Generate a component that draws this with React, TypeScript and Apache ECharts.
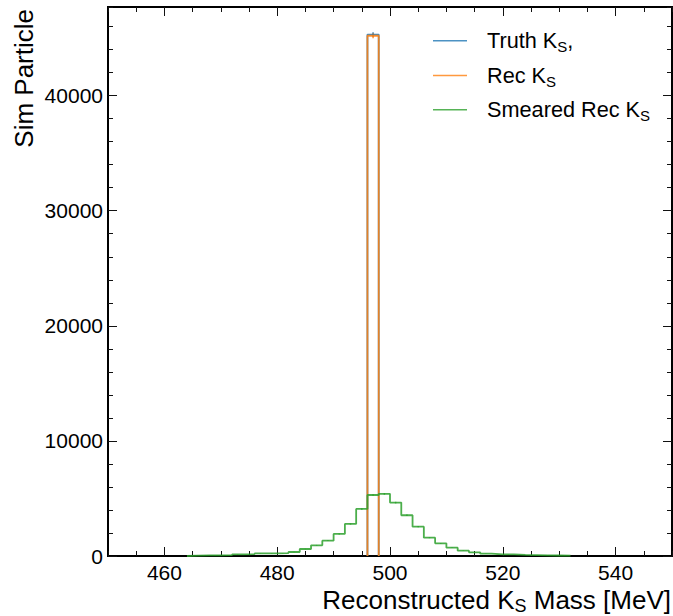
import React, { useEffect, useRef } from 'react';
import * as echarts from 'echarts';

const FONT = "'Liberation Sans', Arial, Helvetica, sans-serif";

// ---- data ----
const xTickLabels = [460, 480, 500, 520, 540];
const yTickLabels = [0, 10000, 20000, 30000, 40000];

const smearedEdges = [
  464, 466, 468, 470, 472, 474, 476, 478, 480, 482, 484, 486, 488, 490, 492, 494, 496, 498,
  500, 502, 504, 506, 508, 510, 512, 514, 516, 518, 520, 522, 524, 526, 528, 530, 532,
];
const smearedCounts = [
  40, 50, 60, 70, 140, 155, 220, 235, 250, 348, 609, 931, 1331, 1915, 2785, 4090, 5300, 5400,
  4640, 3540, 2550, 1590, 1105, 722, 461, 322, 200, 148, 140, 100, 80, 60, 45, 30,
];
const truthEdges = [496, 498];
const truthCounts = [45300];
const recEdges = [496, 498];
const recCounts = [45200];

const seriesNames = ['Truth K_S,', 'Rec K_S', 'Smeared Rec K_S'];
const seriesColors = ['#1f77b4', '#ff7f0e', '#2ca02c'];

const X_MIN = 450;
const X_MAX = 550;
const Y_MIN = 0;
const Y_MAX = 47700;

function stepPoints(edges: number[], counts: number[]) {
  const pts: number[][] = [[edges[0], 0]];
  counts.forEach((c, i) => {
    pts.push([edges[i], c]);
    pts.push([edges[i + 1], c]);
  });
  pts.push([edges[edges.length - 1], 0]);
  return pts;
}

function errPoints(edges: number[], counts: number[]) {
  return counts.map((c, i) => [(edges[i] + edges[i + 1]) / 2, c, Math.sqrt(c)]);
}

function histSeries(name: string, color: string, edges: number[], counts: number[]) {
  return [
    {
      name,
      type: 'line',
      data: stepPoints(edges, counts),
      showSymbol: false,
      symbol: 'none',
      silent: true,
      lineStyle: { color, width: 1.8, opacity: 0.85 },
      itemStyle: { color },
      emphasis: { disabled: true },
      xAxisIndex: 0,
      yAxisIndex: 0,
    },
    {
      name: name + ' err',
      type: 'custom',
      data: errPoints(edges, counts),
      silent: true,
      xAxisIndex: 0,
      yAxisIndex: 0,
      encode: { x: 0, y: 1 },
      renderItem: (params: any, api: any) => {
        const x = api.value(0);
        const y = api.value(1);
        const e = api.value(2);
        const p1 = api.coord([x, y - e]);
        const p2 = api.coord([x, y + e]);
        return {
          type: 'line',
          shape: { x1: p1[0], y1: p1[1], x2: p2[0], y2: p2[1] },
          style: { stroke: color, lineWidth: 1.5, opacity: 0.85 },
        };
      },
    },
  ];
}

function xAxisDef(position: 'bottom' | 'top', major: boolean) {
  const base: any = {
    type: 'value',
    position,
    min: X_MIN,
    max: X_MAX,
    axisLine: { show: false, onZero: false },
    splitLine: { show: false },
  };
  if (major) {
    base.axisTick = {
      show: true,
      inside: true,
      length: 9,
      customValues: xTickLabels,
      lineStyle: { color: '#111', width: 1 },
    };
    base.axisLabel =
      position === 'bottom'
        ? {
            show: true,
            customValues: xTickLabels,
            margin: 6,
            fontSize: 21,
            color: '#000',
            fontFamily: FONT,
            formatter: (v: number) => String(v),
          }
        : { show: false };
  } else {
    base.interval = 5;
    base.axisTick = { show: true, inside: true, length: 5, lineStyle: { color: '#111', width: 1 } };
    base.axisLabel = { show: false };
  }
  return base;
}

function yAxisDef(position: 'left' | 'right', major: boolean) {
  const base: any = {
    type: 'value',
    position,
    min: Y_MIN,
    max: Y_MAX,
    axisLine: { show: false, onZero: false },
    splitLine: { show: false },
  };
  if (major) {
    base.axisTick = {
      show: true,
      inside: true,
      length: 9,
      customValues: yTickLabels,
      lineStyle: { color: '#111', width: 1 },
    };
    base.axisLabel =
      position === 'left'
        ? {
            show: true,
            customValues: yTickLabels,
            margin: 5,
            fontSize: 21,
            color: '#000',
            fontFamily: FONT,
            formatter: (v: number) => String(v),
          }
        : { show: false };
  } else {
    base.interval = 2000;
    base.axisTick = { show: true, inside: true, length: 5, lineStyle: { color: '#111', width: 1 } };
    base.axisLabel = { show: false };
  }
  return base;
}

function subRich(main: number, sub: number, drop: number) {
  const pad = drop + 0.85 * (main - sub);
  return {
    a: { fontSize: main, lineHeight: main, verticalAlign: 'top', fontFamily: FONT, fill: '#000' },
    s: {
      fontSize: sub,
      lineHeight: sub,
      verticalAlign: 'top',
      fontFamily: FONT,
      fill: '#000',
      padding: [pad, 0, 0, 0],
    },
  };
}

function richLabel(name: string) {
  const idx = name.indexOf('K_S');
  const before = name.slice(0, idx + 1);
  const after = name.slice(idx + 3);
  return `{a|${before}}{s|S}` + (after ? `{a|${after}}` : '');
}

export default function App() {
  const ref = useRef<HTMLDivElement>(null);

  useEffect(() => {
    if (!ref.current) return;
    const chart = echarts.init(ref.current, null, { renderer: 'svg' });

    const legendRows = [40.7, 75.5, 109.8];
    const legendGraphics: any[] = [];
    seriesNames.forEach((n, i) => {
      legendGraphics.push({
        type: 'line',
        shape: { x1: 433, y1: legendRows[i], x2: 467, y2: legendRows[i] },
        style: { stroke: seriesColors[i], lineWidth: 1.5, opacity: 0.8 },
        silent: true,
      });
      legendGraphics.push({
        type: 'text',
        x: 487,
        y: legendRows[i],
        silent: true,
        style: {
          text: richLabel(n),
          rich: subRich(21.7, 15, 3.3),
          align: 'left',
          verticalAlign: 'middle',
        },
      });
    });

    const option: any = {
      animation: false,
      backgroundColor: '#fff',
      grid: {
        left: 108,
        right: 1,
        top: 7,
        bottom: 60,
        show: true,
        borderColor: '#000',
        borderWidth: 2,
        backgroundColor: 'transparent',
        containLabel: false,
        outerBoundsMode: 'none',
      },
      xAxis: [xAxisDef('bottom', true), xAxisDef('bottom', false), xAxisDef('top', true), xAxisDef('top', false)],
      yAxis: [yAxisDef('left', true), yAxisDef('left', false), yAxisDef('right', true), yAxisDef('right', false)],
      series: [
        ...histSeries(seriesNames[0], seriesColors[0], truthEdges, truthCounts),
        ...histSeries(seriesNames[1], seriesColors[1], recEdges, recCounts),
        ...histSeries(seriesNames[2], seriesColors[2], smearedEdges, smearedCounts),
      ],
      graphic: [
        ...legendGraphics,
        {
          type: 'text',
          x: 671,
          y: 586.5,
          silent: true,
          style: {
            text: richLabel('Reconstructed K_S Mass [MeV]'),
            rich: subRich(26, 18, 3.6),
            align: 'right',
            verticalAlign: 'top',
          },
        },
        {
          type: 'text',
          x: 24,
          y: 9,
          rotation: Math.PI / 2,
          silent: true,
          style: {
            text: 'Sim Particle',
            fontSize: 26,
            fontFamily: FONT,
            fill: '#000',
            align: 'right',
            verticalAlign: 'middle',
          },
        },
      ],
    };

    chart.setOption(option);
    return () => chart.dispose();
  }, []);

  return (
    <div
      ref={ref}
      style={{ position: 'fixed', left: 0, top: 0, width: 673, height: 616, background: '#fff' }}
    />
  );
}
